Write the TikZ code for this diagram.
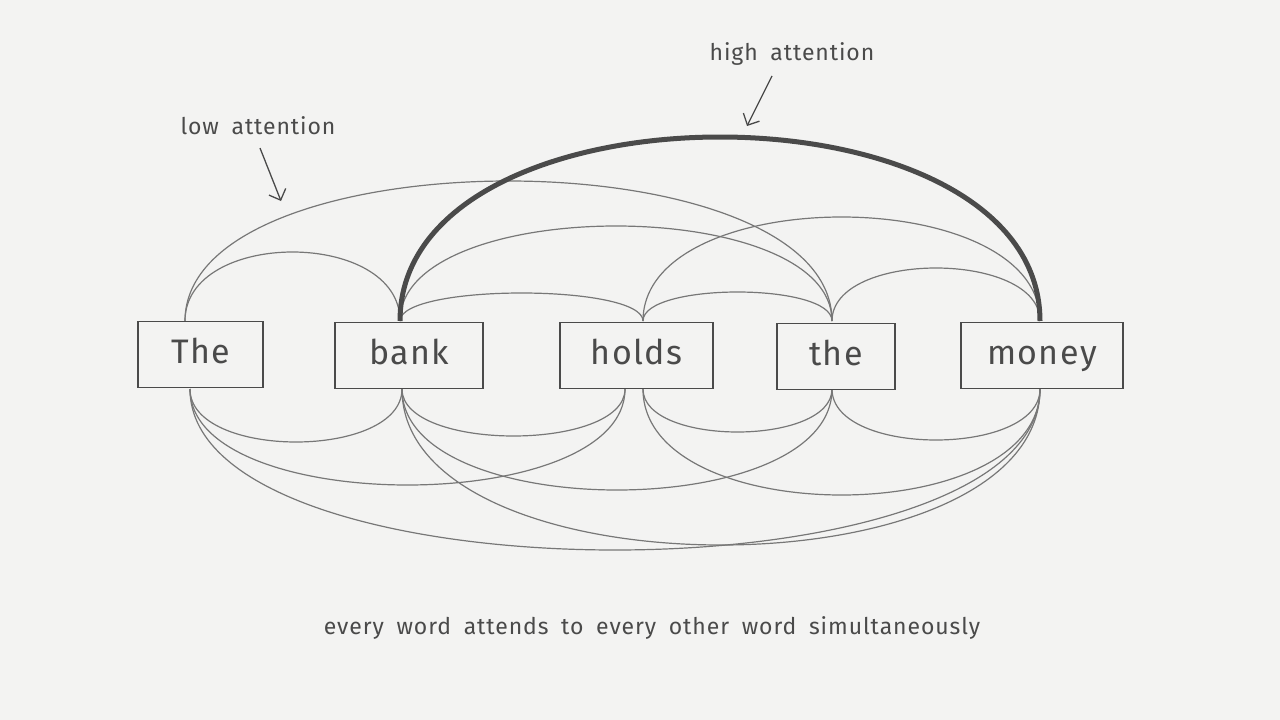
\documentclass[tikz,border=0pt]{standalone}
\usepackage{fontspec}
\setmainfont{Fira Sans}[LetterSpace=4,WordSpace=1.8]
\usetikzlibrary{arrows.meta}
\definecolor{ink}{HTML}{4A4A4A}
\definecolor{bg}{HTML}{F3F3F2}
\begin{document}
\begin{tikzpicture}[x=1pt,y=-1pt,
  box/.style={draw=ink,fill=bg,line width=1.3pt,minimum height=66pt,inner sep=0pt,text height=25pt,text depth=7pt,font=\fontsize{34}{34}\selectfont\color{ink}},
  arc/.style={draw=ink!75,line width=1.2pt},
  lbl/.style={font=\fontsize{23}{23}\selectfont\color{ink}}]
\fill[bg] (0,0) rectangle (1280,720);
\useasboundingbox (0,0) rectangle (1280,720);
\newcommand{\upa}[4][]{\draw[arc,#1] (#2,321) .. controls (#2,{321-4/3*(321-#4)}) and (#3,{321-4/3*(321-#4)}) .. (#3,321);}
\newcommand{\dna}[4][]{\draw[arc,#1] (#2,389) .. controls (#2,{389+4/3*(#4-389)}) and (#3,{389+4/3*(#4-389)}) .. (#3,389);}
\upa{185}{400}{252}
\upa{185}{832}{181}
\upa{400}{643}{293}
\upa{400}{832}{226}
\upa{643}{832}{292}
\upa{643}{1040}{217}
\upa{832}{1040}{268}
\upa[line width=5pt,draw=ink]{400}{1040}{137}
\dna{190}{402}{442}
\dna{190}{625}{485}
\dna{190}{1040}{550}
\dna{402}{625}{436}
\dna{402}{832}{490}
\dna{402}{1040}{545}
\dna{643}{832}{432}
\dna{643}{1040}{495}
\dna{832}{1040}{440}
\node[box,minimum width=125pt] (the1) at (200.5,354.5) {The};
\node[box,minimum width=148pt] (bank) at (409,355.5) {bank};
\node[box,minimum width=153pt] (holds) at (636.5,355.5) {holds};
\node[box,minimum width=118pt] (the2) at (836,356.5) {the};
\node[box,minimum width=162pt] (money) at (1042,355.5) {money};
\node[lbl] (low) at (258,126) {low attention};
\node[lbl] (high) at (792,54) {high attention};
\coordinate (lowt) at (281,201);
\coordinate (hight) at (747,126);
\draw[ink,line width=1.3pt,-{Straight Barb[length=9pt]}] (260,148) -- (lowt);
\draw[ink,line width=1.3pt,-{Straight Barb[length=9pt]}] (772,76) -- (hight);
\node[lbl] (cap) at (652,628) {every word attends to every other word simultaneously};
\end{tikzpicture}
\end{document}
